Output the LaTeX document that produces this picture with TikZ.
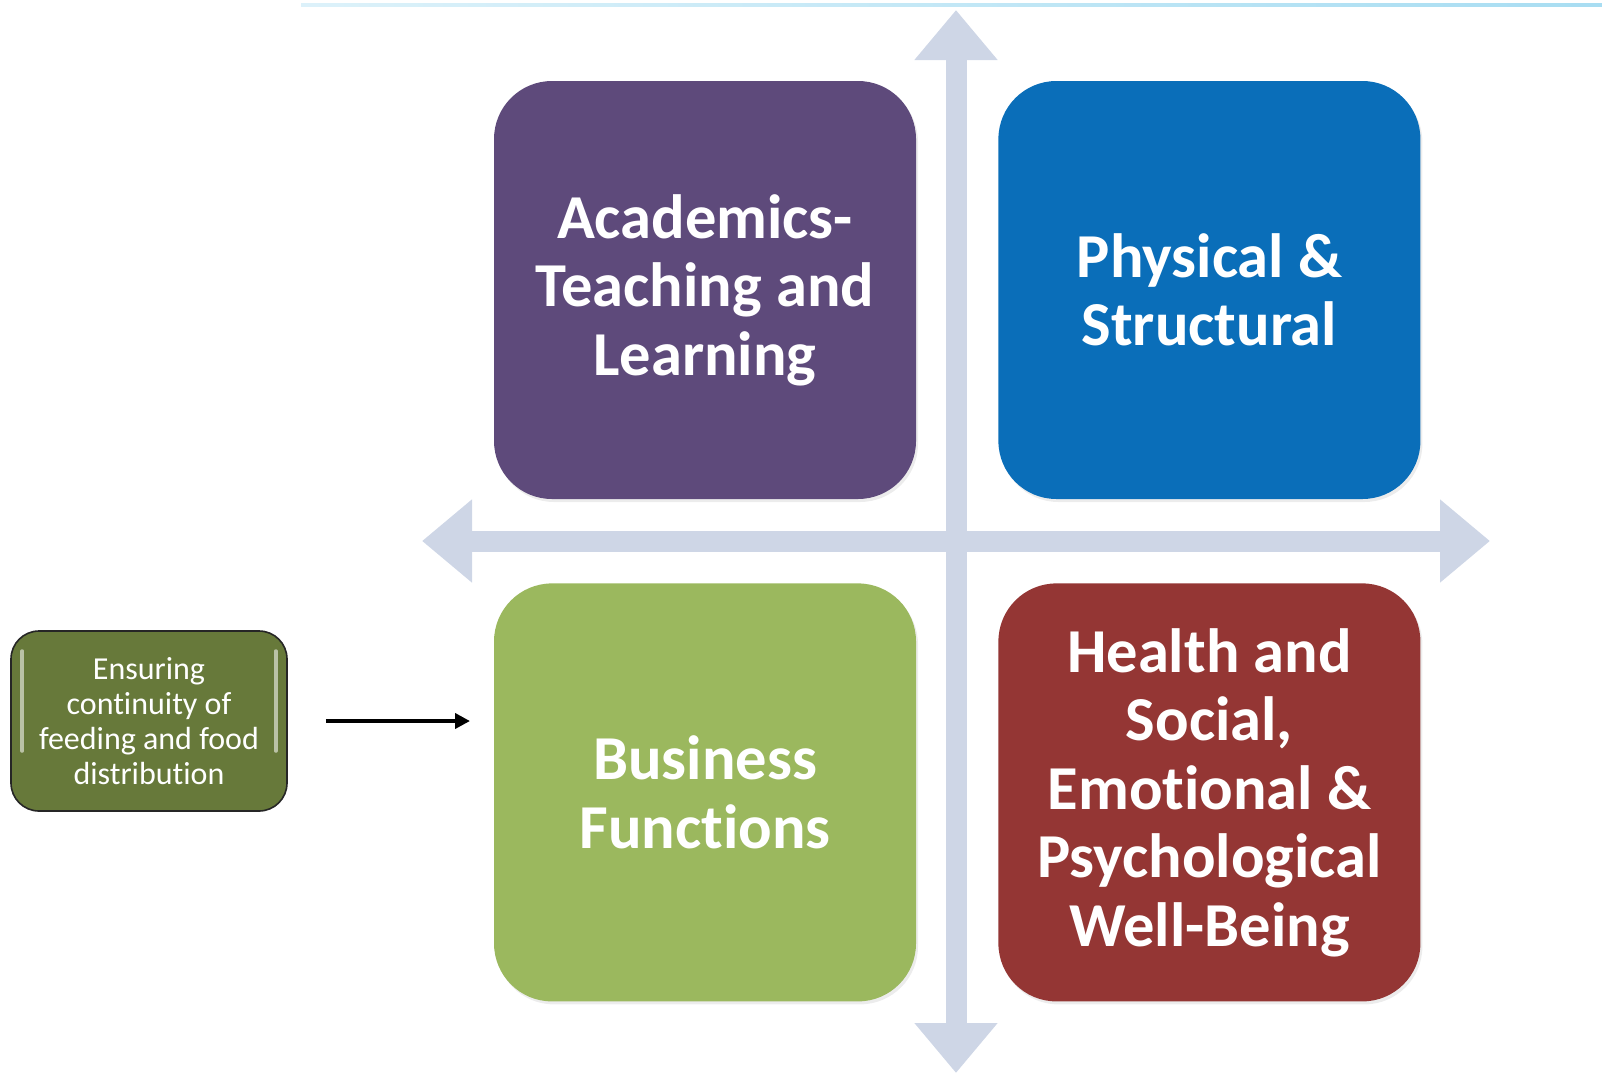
\documentclass[tikz,border=0pt]{standalone}
\usepackage{fontspec}
\setmainfont{Carlito}[Ligatures=NoCommon]
\usetikzlibrary{positioning,arrows.meta,shadows}

\definecolor{academicsviolet}{HTML}{5E4A7B}
\definecolor{physicalblue}{HTML}{0A6EB9}
\definecolor{businessgreen}{HTML}{9BB85E}
\definecolor{healthred}{HTML}{943634}
\definecolor{feedingolive}{HTML}{67793A}
\definecolor{axisgrey}{HTML}{CED6E6}
\definecolor{rulecyan}{HTML}{A8DDF2}

\begin{document}
\begin{tikzpicture}[
  x=1pt, y=-1pt,
  quad/.style = {shape=rectangle, rounded corners=58pt, minimum width=422pt,
    minimum height=418pt, align=center, text=white, inner sep=0pt,
    font=\bfseries\fontsize{62.5}{68.5}\selectfont,
    drop shadow={opacity=0.15, shadow xshift=2pt, shadow yshift=-3pt}},
  axis/.style = {draw=axisgrey, line width=21pt,
    {Triangle[width=80pt, length=50pt]}-{Triangle[width=80pt, length=50pt]}},
  note/.style = {shape=rectangle, rounded corners=28pt, draw=black!85,
    line width=1.6pt, fill=feedingolive, text=white, align=center,
    minimum width=276pt, minimum height=180pt, inner sep=2pt,
    font=\fontsize{32}{35}\selectfont}
  ]
  \useasboundingbox (0,0) rectangle (1602,1074);

  % thin rule along the top
  \shade[left color=rulecyan!40, right color=rulecyan] (301,3) rectangle (1602,6.5);

  % the cross
  \coordinate (north) at (956,10);
  \coordinate (south) at (956,1073);
  \coordinate (west) at (422,541);
  \coordinate (east) at (1490,541);
  \draw[axis] (south) -- (north);
  \draw[axis] (west) -- (east);

  % four quadrants
  \node[quad, fill=academicsviolet] (academics) at (705,290)
    {Academics-\\Teaching and\\Learning};
  \node[quad, fill=physicalblue, right=82pt of academics] (physical)
    {Physical \&\\Structural};
  \node[quad, fill=businessgreen, below=84pt of academics] (business)
    {Business\\Functions};
  \node[quad, fill=healthred, below=84pt of physical] (health)
    {Health and\\Social,\\Emotional \&\\Psychological\\Well-Being};

  % side note
  \node[note] (feeding) at (149,721)
    {Ensuring\\continuity of\\feeding and food\\distribution};
  \draw[white, opacity=0.55, line width=3.5pt, line cap=round]
    ([shift={(12pt,-30pt)}]feeding.west) -- ([shift={(12pt,70pt)}]feeding.west);
  \draw[white, opacity=0.55, line width=3.5pt, line cap=round]
    ([shift={(-12pt,-30pt)}]feeding.east) -- ([shift={(-12pt,70pt)}]feeding.east);
  \coordinate (pointer) at (470,721);
  \draw[line width=4pt, -{Triangle[width=15pt, length=15pt]}]
    ([xshift=38pt]feeding.east) -- (pointer);
\end{tikzpicture}
\end{document}
